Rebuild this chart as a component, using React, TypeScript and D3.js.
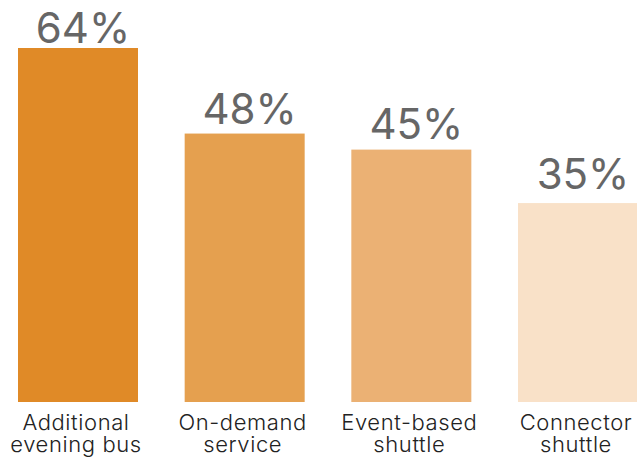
import React from "react";
import * as d3 from "d3";

const categories: string[][] = [
  ["Additional", "evening bus"],
  ["On-demand", "service"],
  ["Event-based", "shuttle"],
  ["Connector", "shuttle"],
];
const values: number[] = [64, 48, 45, 35];
const valueLabels: string[] = ["64%", "48%", "45%", "35%"];
const colors: string[] = ["#E08A27", "#E5A04F", "#EBB174", "#F9E1C8"];

const W = 637;
const H = 458;

export default function App() {
  const ids = categories.map((_, i) => String(i));
  const x = d3.scaleBand<string>().domain(ids).range([18, 638]).paddingInner(0.28).paddingOuter(0);
  const y = d3.scaleLinear().domain([-2.2, 64]).range([402, 48]);
  const yLabel = d3.scaleLinear().domain([35, 64]).range([188.8, 43.2]);

  return (
    <svg
      width={W}
      height={H}
      viewBox={`0 0 ${W} ${H}`}
      style={{ position: "absolute", left: 0, top: 0, background: "#fff" }}
    >
      {values.map((v, i) => {
        const x0 = x(String(i)) as number;
        const bw = x.bandwidth();
        return (
          <g key={i}>
            <rect x={x0} y={y(v)} width={bw} height={y(-2.2) - y(v)} fill={colors[i]} />
            <text
              x={x0 + bw / 2 + 5}
              y={yLabel(v)}
              textAnchor="middle"
              fontFamily="Inter, 'Noto Sans', sans-serif"
              fontSize={42}
              fontWeight={400}
              fill="#666666"
            >
              {valueLabels[i]}
            </text>
            <text
              x={x0 + bw / 2 - 2}
              y={430}
              textAnchor="middle"
              fontFamily="Inter, 'Noto Sans', sans-serif"
              fontSize={22}
              fontWeight={350}
              letterSpacing={0.6}
              fill="#222222"
            >
              {categories[i].map((line, j) => (
                <tspan key={j} x={x0 + bw / 2 - 2} dy={j === 0 ? 0 : 22}>
                  {line}
                </tspan>
              ))}
            </text>
          </g>
        );
      })}
    </svg>
  );
}
